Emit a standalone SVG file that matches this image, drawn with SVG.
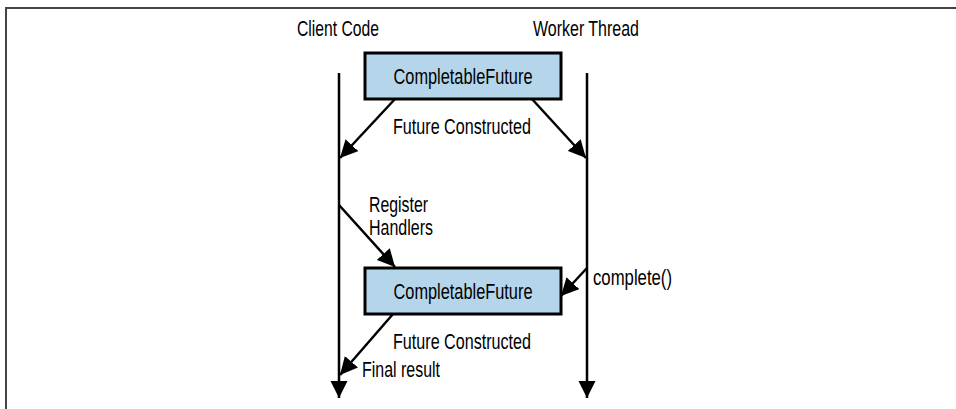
<svg xmlns="http://www.w3.org/2000/svg" width="956" height="409" viewBox="0 0 956 409">
<style>
text{font-family:"Liberation Sans",Arial,sans-serif;font-size:22px;fill:#000}
.box{fill:#b4d5ea;stroke:#000;stroke-width:3}
.ln{stroke:#000;stroke-width:2.5;fill:none}
.frame{stroke:#444;stroke-width:2;fill:none}
</style>
<defs>
<marker id="ah2" viewBox="0 0 10 10" refX="10" refY="5" markerWidth="7" markerHeight="7" orient="auto">
<path d="M0,0 L10,5 L0,10 z" fill="#000"/>
</marker>
</defs>
<path class="frame" d="M6,409 V8 H956"/>
<g id="client-label"><text x="338" y="36" text-anchor="middle" textLength="82" lengthAdjust="spacingAndGlyphs">Client Code</text></g>
<g id="worker-label"><text x="586" y="36" text-anchor="middle" textLength="106" lengthAdjust="spacingAndGlyphs">Worker Thread</text></g>
<g id="connectors">
<line class="ln" x1="339" y1="73" x2="339" y2="398" marker-end="url(#ah2)"/>
<line class="ln" x1="587" y1="73" x2="587" y2="398" marker-end="url(#ah2)"/>
<line class="ln" x1="395" y1="99" x2="340" y2="158" marker-end="url(#ah2)"/>
<line class="ln" x1="532" y1="99" x2="586" y2="158" marker-end="url(#ah2)"/>
<line class="ln" x1="339" y1="205" x2="395" y2="267" marker-end="url(#ah2)"/>
<line class="ln" x1="587" y1="268" x2="561" y2="296" marker-end="url(#ah2)"/>
<line class="ln" x1="393" y1="314" x2="340" y2="375" marker-end="url(#ah2)"/>
</g>
<g id="future1">
<rect class="box" x="365" y="53" width="196" height="46"/>
<text x="463" y="84" text-anchor="middle" textLength="139" lengthAdjust="spacingAndGlyphs">CompletableFuture</text>
</g>
<g id="label-constructed1"><text x="393" y="134" textLength="138" lengthAdjust="spacingAndGlyphs">Future Constructed</text></g>
<g id="label-register">
<text x="369" y="212" textLength="59" lengthAdjust="spacingAndGlyphs">Register</text>
<text x="369" y="235" textLength="64" lengthAdjust="spacingAndGlyphs">Handlers</text>
</g>
<g id="future2">
<rect class="box" x="365" y="268" width="196" height="46"/>
<text x="463" y="299" text-anchor="middle" textLength="139" lengthAdjust="spacingAndGlyphs">CompletableFuture</text>
</g>
<g id="label-complete"><text x="593" y="285" textLength="79" lengthAdjust="spacingAndGlyphs">complete()</text></g>
<g id="label-constructed2"><text x="393" y="349" textLength="138" lengthAdjust="spacingAndGlyphs">Future Constructed</text></g>
<g id="label-final"><text x="362" y="377" textLength="78" lengthAdjust="spacingAndGlyphs">Final result</text></g>
</svg>
